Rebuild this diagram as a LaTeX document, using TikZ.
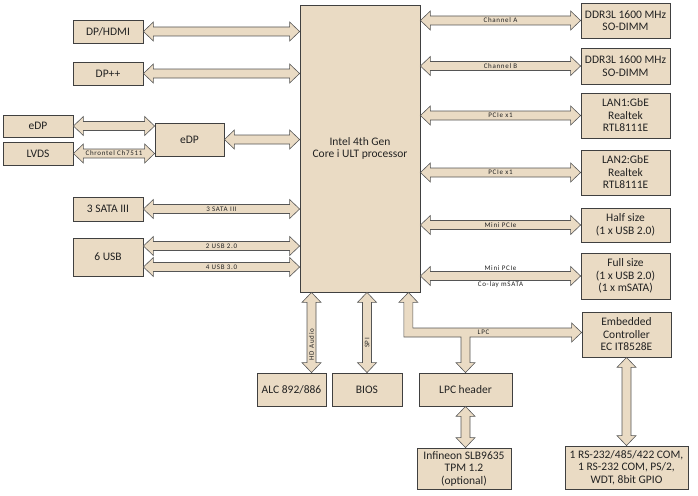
\documentclass[tikz,border=0pt]{standalone}
\usepackage{fontspec}
\setmainfont{Carlito}
\newfontfamily\lblfont[LetterSpace=10]{Carlito}
\usetikzlibrary{calc,decorations.pathreplacing}
\definecolor{sand}{HTML}{EADBC4}
\definecolor{ink}{HTML}{222222}
\definecolor{rim}{HTML}{404040}
\definecolor{slate}{HTML}{555555}
\tikzset{
  blk/.style={draw=rim,fill=sand,line width=0.8pt,align=center,inner sep=0pt,text=ink,font=\fontsize{11.5}{12.5}\selectfont},
  sbox/.style={blk,minimum width=70,minimum height=23},
  rbox/.style={blk,minimum width=89},
  dbox/.style={blk,minimum height=33},
  arrline/.style={draw=slate,fill=sand,line width=0.6pt,line join=miter},
  lbl/.style={font=\lblfont\fontsize{7}{8}\selectfont,text=ink,inner sep=1pt},
  biarrow/.style={draw=none,preaction={decorate,decoration={show path construction,
    lineto code={\draw[arrline] let \p1=(\tikzinputsegmentfirst),\p2=(\tikzinputsegmentlast) in
      (\p1) -- ($(\p1)!10pt!(\p2)!9.5pt!90:(\p2)$) -- ($(\p1)!10pt!(\p2)!4.5pt!90:(\p2)$)
      -- ($(\p2)!10pt!(\p1)!4.5pt!-90:(\p1)$) -- ($(\p2)!10pt!(\p1)!9.5pt!-90:(\p1)$)
      -- (\p2) -- ($(\p2)!10pt!(\p1)!9.5pt!90:(\p1)$) -- ($(\p2)!10pt!(\p1)!4.5pt!90:(\p1)$)
      -- ($(\p1)!10pt!(\p2)!4.5pt!-90:(\p2)$) -- ($(\p1)!10pt!(\p2)!9.5pt!-90:(\p2)$) -- cycle;}}}},
}
\begin{document}
\begin{tikzpicture}[x=1pt,y=-1pt]
\useasboundingbox (0,0) rectangle (698,495);
% processor
\node[blk,minimum width=120,minimum height=287] (cpu) at (360,148.5) {Intel 4th Gen\\Core i ULT processor};
% left side
\node[sbox] (dphdmi) at (108,31.5) {DP/HDMI};
\node[sbox] (dpplus) at (108,73.5) {DP++};
\node[sbox,minimum height=22] (edpout) at (38,126) {eDP};
\node[sbox] (lvds) at (38,153.5) {LVDS};
\node[dbox,minimum width=69] (edp) at (189.5,139.5) {eDP};
\node[sbox,minimum height=24] (sata) at (108,209) {3 SATA III};
\node[sbox,minimum height=38] (usb) at (108,257) {6 USB};
% right side
\node[rbox,minimum height=35] (dimma) at (625.5,20.5) {DDR3L 1600 MHz\\SO-DIMM};
\node[rbox,minimum height=36] (dimmb) at (625.5,66) {DDR3L 1600 MHz\\SO-DIMM};
\node[rbox,minimum height=45] (lanone) at (625.5,115.5) {LAN1:GbE\\Realtek\\RTL8111E};
\node[rbox,minimum height=45] (lantwo) at (625.5,172.5) {LAN2:GbE\\Realtek\\RTL8111E};
\node[rbox,minimum height=34] (half) at (625.5,225) {Half size\\(1 x USB 2.0)};
\node[rbox,minimum height=46] (full) at (625.5,276) {Full size\\(1 x USB 2.0)\\(1 x mSATA)};
\node[rbox,minimum height=45] (ec) at (626.5,334.5) {Embedded\\Controller\\EC IT8528E};
\node[blk,minimum width=123,minimum height=43] (io) at (626.5,467.5) {1 RS-232/485/422 COM,\\1 RS-232 COM, PS/2,\\WDT, 8bit GPIO};
% bottom
\node[dbox,minimum width=69] (alc) at (291.5,389.5) {ALC 892/886};
\node[dbox,minimum width=70] (bios) at (367,389.5) {BIOS};
\node[dbox,minimum width=93] (lpch) at (465.5,389.5) {LPC header};
\node[blk,minimum width=94,minimum height=41] (tpm) at (464,468.5) {Infineon SLB9635\\TPM 1.2\\(optional)};
% left buses
\coordinate (usbhi) at ([yshift=11pt]usb.east);
\coordinate (usblo) at ([yshift=-10pt]usb.east);
\draw[biarrow] (dphdmi.east) -- (dphdmi.east -| cpu.west);
\draw[biarrow] (dpplus.east) -- (dpplus.east -| cpu.west);
\draw[biarrow] (edpout.east) -- (edpout.east -| edp.west);
\draw[biarrow] (lvds.east) -- node[lbl] (chrontel) {Chrontel Ch7511} (lvds.east -| edp.west);
\draw[biarrow] (edp.east) -- (edp.east -| cpu.west);
\draw[biarrow] (sata.east) -- node[lbl] (satabus) {3 SATA III} (sata.east -| cpu.west);
\draw[biarrow] (usbhi) -- node[lbl] (usbtwo) {2 USB 2.0} (usbhi -| cpu.west);
\draw[biarrow] (usblo) -- node[lbl] (usbthree) {4 USB 3.0} (usblo -| cpu.west);
% right buses
\draw[biarrow] (dimma.west -| cpu.east) -- node[lbl] (chana) {Channel A} (dimma.west);
\draw[biarrow] (dimmb.west -| cpu.east) -- node[lbl] (chanb) {Channel B} (dimmb.west);
\draw[biarrow] (lanone.west -| cpu.east) -- node[lbl] (pcieone) {PCIe x1} (lanone.west);
\draw[biarrow] (lantwo.west -| cpu.east) -- node[lbl] (pcietwo) {PCIe x1} (lantwo.west);
\draw[biarrow] (half.west -| cpu.east) -- node[lbl] (halfpcie) {Mini PCIe} (half.west);
\draw[biarrow] (full.west -| cpu.east) -- node[lbl,yshift=8pt] (fullpcie) {Mini PCIe} node[lbl,yshift=-9pt] (msata) {Co-lay mSATA} (full.west);
% bottom buses
\coordinate (audio) at ([xshift=20pt]alc.north);
\draw[biarrow] (audio) -- node[lbl,rotate=90,pos=0.35] (hdaudio) {HD Audio} (audio |- cpu.south);
\draw[biarrow] (bios.north) -- node[lbl,rotate=90,pos=0.37] (spi) {SPI} (bios.north |- cpu.south);
\draw[biarrow] (lpch.south) -- (lpch.south |- tpm.north);
\draw[biarrow] (ec.south) -- (ec.south |- io.north);
% LPC bus with branch
\coordinate (lpcup) at ([xshift=-12pt]cpu.south east);
\coordinate (lpcturn) at ([yshift=2pt]lpcup |- ec.west);
\draw[arrline] (lpcup) -- ++(9.5,10) -- ++(-5,0) |- ($(ec.west |- lpcturn)+(-10,-4.5)$) -- ++(0,-5)
  -- (ec.west |- lpcturn) -- ++(-10,9.5) -- ++(0,-5) -| ($(lpch.north)+(4.5,-10)$) -- ++(5,0)
  -- (lpch.north) -- ++(-9.5,-10) -- ++(5,0) |- ($(lpcturn)+(-4.5,4.5)$) |- ($(lpcup)+(-4.5,10)$)
  -- ++(-5,0) -- cycle;
\node[lbl] (lpcbus) at ($(lpcturn -| lpch.north)+(18,0)$) {LPC};
\end{tikzpicture}
\end{document}
